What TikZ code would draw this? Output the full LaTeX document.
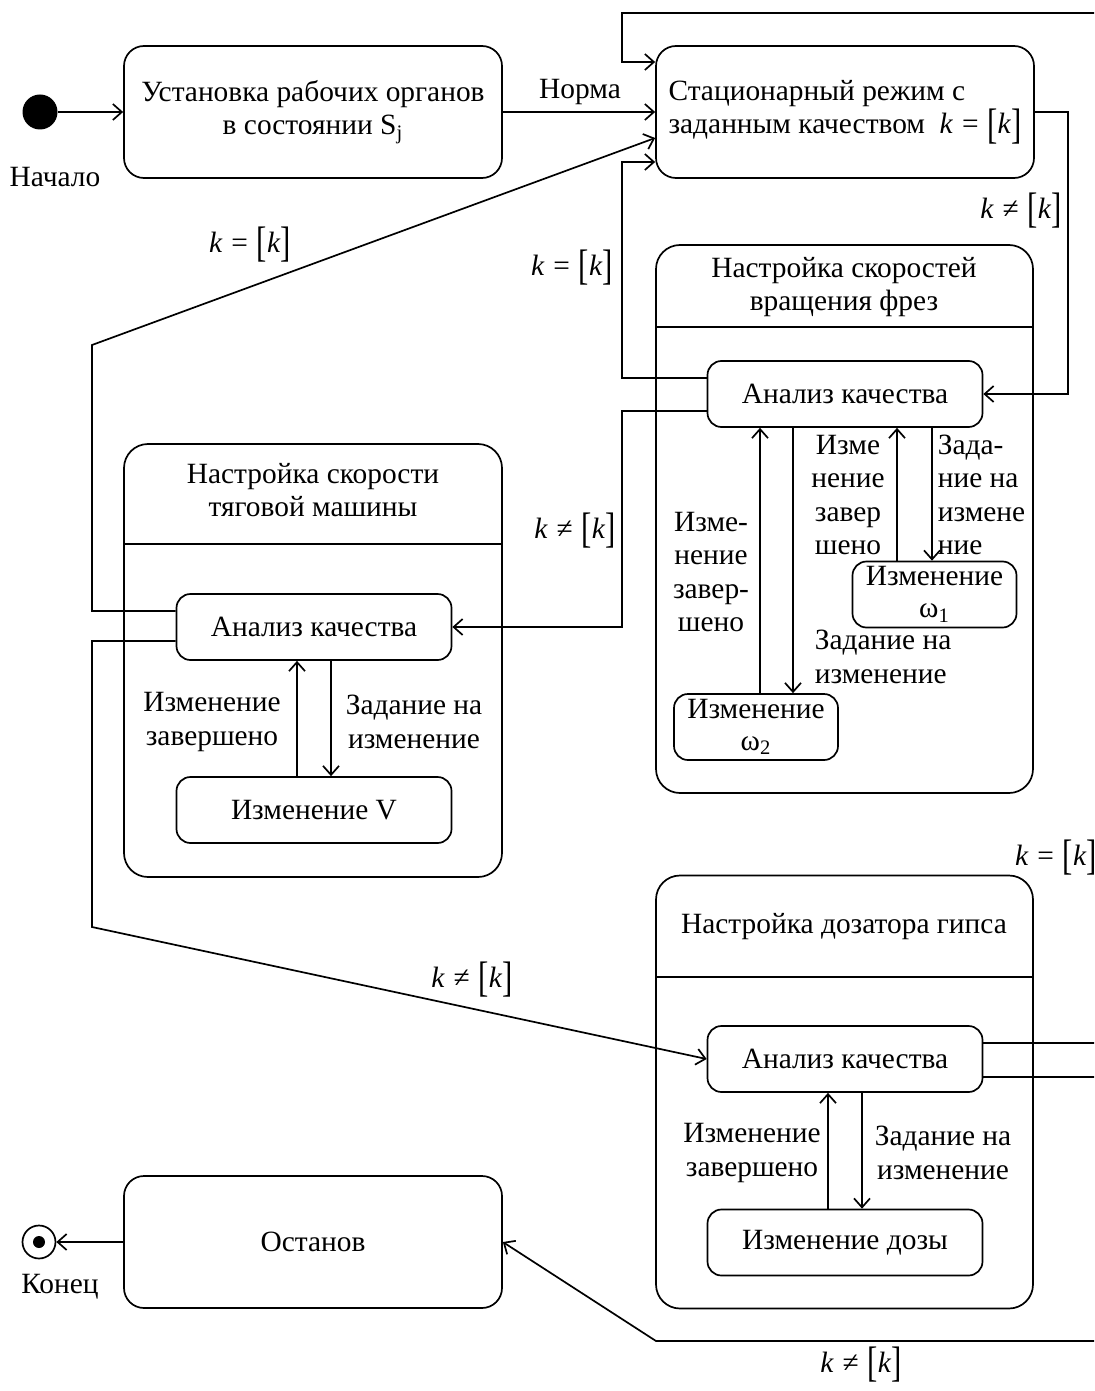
\documentclass[tikz,border=0pt]{standalone}
\usepackage{fontspec}
\setmainfont{Liberation Serif}
\usetikzlibrary{arrows.meta}

\newcommand{\kcond}[1]{\textit{k}\hspace{0.3em}#1\hspace{0.3em}\raisebox{-0.14em}{\scalebox{1.05}[1.45]{[}}\textit{k}\raisebox{-0.14em}{\scalebox{1.05}[1.45]{]}}}

\tikzset{
	state/.style={draw, rounded corners=10pt, minimum width=189pt, minimum height=66pt, align=center},
	substate/.style={draw, rounded corners=7pt, minimum width=137.5pt, minimum height=33pt, align=center, inner sep=1pt},
	omegastate/.style={substate, minimum width=82pt, font=\fontsize{14.7}{16}\selectfont},
	composite/.style={draw, rounded corners=12pt, minimum width=188.5pt},
	lbl/.style={inner sep=0pt, align=center},
}

\begin{document}
\begin{tikzpicture}[x=0.5pt, y=-0.5pt, line width=0.85pt,
		>={Straight Barb[length=4.5pt,width=8pt]},
		font=\fontsize{14.7}{16.75}\selectfont]
		\useasboundingbox (0,0) rectangle (1094,1391);
		\clip (0,0) rectangle (1094,1391);
		
		% composite states
		\node[composite, minimum height=274pt] (fr) at (844.5,519) {};
		\node[lbl] (frT) at (844,287) {Настройка скоростей\\вращения фрез};
		\draw (fr.west |- 0,327) -- (fr.east |- 0,327);
		
		\node[composite, minimum height=216.5pt, minimum width=189pt] (tg) at (313,660.5) {};
		\node[lbl] (tgT) at (313,490) {Настройка скорости\\тяговой машины};
		\draw (tg.west |- 0,544) -- (tg.east |- 0,544);
		
		\node[composite, minimum height=216.5pt] (dz) at (844.5,1092) {};
		\node[lbl] (dzT) at (844,927) {Настройка дозатора гипса};
		\draw (dz.west |- 0,977) -- (dz.east |- 0,977);
		
		% states
		\node[circle, fill, minimum size=17.5pt, inner sep=0pt] (start) at (40,112) {};
		\node[lbl] (startT) at (55,177) {Начало};
		\node[state] (b1) at (313,112) {Установка рабочих органов\\в состоянии S\textsubscript{j}};
		\node[state, align=left] (b2) at (845,112)
			{Стационарный режим с\\заданным качеством\ \ \kcond{=}};
		\node[state] (ost) at (313,1242) {Останов};
		\node[circle, draw, minimum size=16.5pt, inner sep=0pt] (fin) at (39,1242) {};
		\node[circle, fill, minimum size=6pt, inner sep=0pt] (finDot) at (fin) {};
		\node[lbl] (finT) at (60,1287) {Конец};
		
		\node[substate] (afr) at (845,394) {Анализ качества};
		\node[omegastate] (w1) at (934.5,594.5) {Изменение\\ω\textsubscript{1}};
		\node[omegastate] (w2) at (756,727) {Изменение\\ω\textsubscript{2}};
		
		\node[substate] (atg) at (314,627) {Анализ качества};
		\node[substate] (vb) at (314,810) {Изменение V};
		
		\node[substate] (adz) at (845,1059) {Анализ качества};
		\node[substate] (doza) at (845,1242.5) {Изменение дозы};
		
		% bend points
		\coordinate (lpR) at (1100,13);
		\coordinate (lpL) at (622,62);
		\coordinate (c1) at (92,345);
		\coordinate (c2) at (622,162);
		\coordinate (c3) at (1068,394);
		\coordinate (c4) at (622,627);
		\coordinate (c5) at (92,927);
		\coordinate (e1) at (1100,1043);
		\coordinate (e2) at (1100,1077);
		\coordinate (e3) at (1100,1341);
		\coordinate (c6) at (656,1341);
		
		% transitions
		\draw[->] (start) -- (b1);
		\draw[->] (b1) -- (b2);
		\node[lbl] (norma) at (580,92) {Норма};
		\draw[->] (lpR) -| (lpL) -- (b2.west |- lpL);
		\draw[->] ([yshift=8pt]atg.west) -| (c1) -- ([yshift=-13pt]b2.west);
		\draw[->] ([yshift=8pt]afr.west) -| (c2) -- (b2.west |- c2);
		\draw[->] (b2.east) -| (c3) -- (afr.east);
		\draw[->] ([yshift=-8.5pt]afr.west) -| (c4) -- (atg.east);
		\draw[->] ([yshift=-7pt]atg.west) -| (c5) -- (adz.west);
		\draw (adz.east |- e1) -- (e1);
		\draw (adz.east |- e2) -- (e2);
		\draw[->] (e3) -- (c6) -- (ost.east);
		\draw[->] (ost) -- (fin);
		
		\node[lbl] (k1) at (250,245) {\kcond{=}};
		\node[lbl] (k2) at (572,268) {\kcond{=}};
		\node[lbl] (k3) at (1021,211) {\kcond{≠}};
		\node[lbl] (k4) at (575,531) {\kcond{≠}};
		\node[lbl] (k5) at (472,980) {\kcond{≠}};
		\node[lbl] (k6) at (861,1365) {\kcond{≠}};
		\node[lbl] (k7) at (1056,858) {\kcond{=}};
		
		% inside composites
		\draw[->] ([xshift=2pt]w2.north) -- ([xshift=2pt]w2.north |- afr.south);
		\draw[->] ([xshift=-26pt]afr.south) -- ([xshift=-26pt]afr.south |- w2.north);
		\draw[->] ([xshift=-18.75pt]w1.north) -- ([xshift=-18.75pt]w1.north |- afr.south);
		\draw[->] ([xshift=43.5pt]afr.south) -- ([xshift=43.5pt]afr.south |- w1.north);
		\node[lbl] (fr1) at (711,572) {Изме-\\нение\\завер-\\шено};
		\node[lbl] (fr2) at (848,495) {Изме\\нение\\завер\\шено};
		\node[lbl, anchor=west, align=left] (fr3) at (937,495) {Зада-\\ние на\\измене\\ние};
		\node[lbl, anchor=west, align=left] (fr4) at (814,657) {Задание на\\изменение};
		
		\draw[->] ([xshift=-8.5pt]vb.north) -- ([xshift=-8.5pt]atg.south);
		\draw[->] ([xshift=8.5pt]atg.south) -- ([xshift=8.5pt]vb.north);
		\node[lbl] (tg1) at (212,722) {Изменение\\завершено};
		\node[lbl] (tg2) at (414,722) {Задание на\\изменение};
		
		\draw[->] ([xshift=-8.5pt]doza.north) -- ([xshift=-8.5pt]adz.south);
		\draw[->] ([xshift=8.5pt]adz.south) -- ([xshift=8.5pt]doza.north);
		\node[lbl] (dz1) at (752,1153) {Изменение\\завершено};
		\node[lbl] (dz2) at (943,1153) {Задание на\\изменение};
	\end{tikzpicture}
\end{document}
